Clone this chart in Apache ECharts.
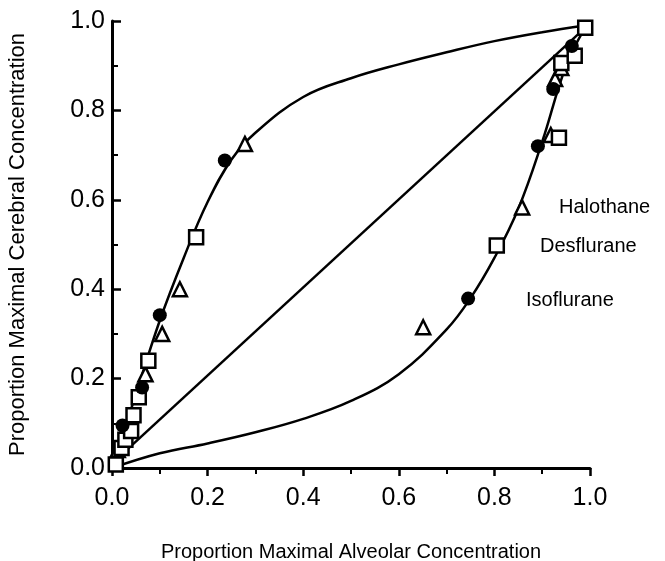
<!DOCTYPE html>
<html>
<head>
<meta charset="utf-8">
<script src="https://cdn.jsdelivr.net/npm/echarts@6/dist/echarts.min.js"></script>
<style>
  html, body { margin: 0; padding: 0; background: #fff; }
  #main { width: 665px; height: 561px; }
</style>
</head>
<body>
<div id="main"></div>
<script>
// data: [alveolar, cerebral]
var halothane = [[0.012, 0.04], [0.07, 0.21], [0.105, 0.30], [0.142, 0.40], [0.278, 0.725],
    [0.651, 0.315], [0.858, 0.583], [0.918, 0.745], [0.927, 0.87], [0.94, 0.895]];
var desflurane = [[0.008, 0.008], [0.02, 0.045], [0.028, 0.063], [0.04, 0.083], [0.045, 0.118],
    [0.056, 0.158], [0.076, 0.24], [0.176, 0.516], [0.805, 0.498], [0.935, 0.739],
    [0.94, 0.906], [0.968, 0.922], [0.99, 0.985]];
var isoflurane = [[0.022, 0.095], [0.063, 0.18], [0.1, 0.342], [0.236, 0.688],
    [0.745, 0.379], [0.891, 0.72], [0.923, 0.848], [0.962, 0.944]];

// fitted curves
var uptakeCurve = [[0, 0], [0.05, 0.165], [0.1, 0.33], [0.15, 0.47], [0.2, 0.595],
    [0.25, 0.69], [0.3, 0.75], [0.4, 0.83], [0.5, 0.872], [0.6, 0.903],
    [0.7, 0.93], [0.8, 0.955], [0.9, 0.975], [0.99, 0.99]];
var identityLine = [[0.01, 0.02], [0.98, 0.975]];
var washoutCurve = [[0, 0], [0.1, 0.033], [0.2, 0.055], [0.3, 0.08], [0.4, 0.11],
    [0.5, 0.15], [0.6, 0.21], [0.7, 0.31], [0.75, 0.38], [0.8, 0.47],
    [0.85, 0.58], [0.9, 0.73], [0.95, 0.9], [0.99, 0.985]];

var fontFam = '"Liberation Sans", Arial, sans-serif';
var myChart = echarts.init(document.getElementById('main'));

function curve(d) {
    return {
        type: 'line', data: d, smooth: 0.4, symbol: 'none',
        lineStyle: { color: '#000', width: 2.5 }, z: 2, silent: true
    };
}
function marks(d, sym, filled) {
    return {
        type: 'scatter', data: d, symbol: sym, symbolSize: 14, z: 5,
        itemStyle: { color: filled ? '#000' : '#fff', borderColor: '#000', borderWidth: filled ? 0 : 2.5, opacity: 1 }
    };
}

var option = {
    backgroundColor: '#fff',
    animation: false,
    grid: { left: 112, right: 75, top: 21, bottom: 93, outerBoundsMode: 'none', containLabel: false },
    xAxis: {
        type: 'value', min: 0, max: 1, interval: 0.2,
        name: 'Proportion Maximal Alveolar Concentration', nameLocation: 'middle', nameGap: 74,
        nameTextStyle: { fontFamily: fontFam, fontSize: 20, color: '#000' },
        axisLine: { lineStyle: { color: '#000', width: 3 } },
        axisTick: { length: 8, lineStyle: { color: '#000', width: 2.5 } },
        minorTick: { show: true, splitNumber: 2, length: 6, lineStyle: { color: '#000', width: 2 } },
        axisLabel: { fontFamily: fontFam, fontSize: 25, color: '#000', margin: 18,
            formatter: function (v) { return v.toFixed(1); } },
        splitLine: { show: false }
    },
    yAxis: {
        type: 'value', min: 0, max: 1, interval: 0.2,
        name: 'Proportion Maximal Cerebral Concentration', nameLocation: 'middle', nameGap: 83,
        nameTextStyle: { fontFamily: fontFam, fontSize: 22, color: '#000' },
        axisLine: { lineStyle: { color: '#000', width: 3 } },
        axisTick: { inside: true, length: 9, lineStyle: { color: '#000', width: 2.5 } },
        minorTick: { show: true, splitNumber: 2, length: 6, lineStyle: { color: '#000', width: 2 } },
        axisLabel: { fontFamily: fontFam, fontSize: 25, color: '#000', margin: 7,
            formatter: function (v) { return v.toFixed(1); } },
        splitLine: { show: false }
    },
    graphic: [
        { type: 'text', left: 559, top: 197, style: { text: 'Halothane', font: '20px ' + fontFam, fill: '#000' } },
        { type: 'text', left: 540, top: 236, style: { text: 'Desflurane', font: '20px ' + fontFam, fill: '#000' } },
        { type: 'text', left: 526, top: 290, style: { text: 'Isoflurane', font: '20px ' + fontFam, fill: '#000' } }
    ],
    series: [
        curve(uptakeCurve),
        curve(identityLine),
        curve(washoutCurve),
        marks(halothane, 'triangle', false),
        marks(desflurane, 'rect', false),
        marks(isoflurane, 'circle', true)
    ]
};
myChart.setOption(option);
</script>
</body>
</html>
